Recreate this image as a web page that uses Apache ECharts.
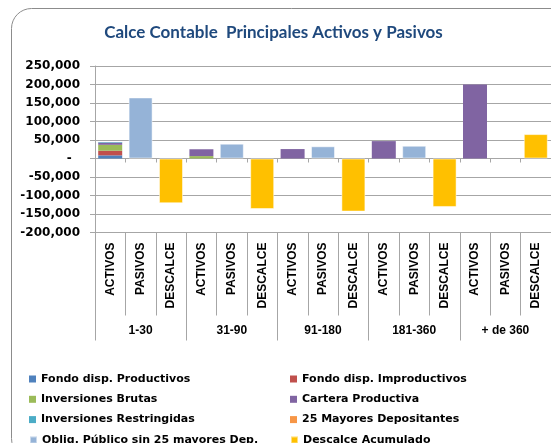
<!DOCTYPE html>
<html>
<head>
<meta charset="utf-8">
<script src="https://cdn.jsdelivr.net/npm/echarts@6/dist/echarts.min.js"></script>
<style>
html,body{margin:0;padding:0;background:#fff;}
#c{width:551px;height:443px;}
</style>
</head>
<body>
<div id="c"></div>
<script>
var categories = ['ACTIVOS','PASIVOS','DESCALCE','ACTIVOS','PASIVOS','DESCALCE','ACTIVOS','PASIVOS','DESCALCE','ACTIVOS','PASIVOS','DESCALCE','ACTIVOS','PASIVOS','DESCALCE'];
var groups = ['1-30','31-90','91-180','181-360','+ de 360'];
var yTicks = [-200000,-150000,-100000,-50000,0,50000,100000,150000,200000,250000];

var fondoProd    = [8500,null,null, null,null,null, null,null,null, null,null,null, null,null,null];
var fondoImprod  = [12500,null,null, null,null,null, null,null,null, null,null,null, null,null,null];
var invBrutas    = [16000,null,null, 6500,null,null, null,null,null, null,null,null, null,null,null];
var cartera      = [6000,null,null, 18500,null,null, 25500,null,null, 47000,null,null, 200000,null,null];
var invRestr     = [1500,null,null, null,null,null, null,null,null, null,null,null, null,null,null];
var mayores25    = [null,null,null, null,null,null, null,null,null, null,null,null, null,null,null];
var oblig        = [null,165000,null, null,40000,null, null,33000,null, null,34500,null, null,null,null];
var descalce     = [null,null,-121000, null,null,-136500, null,null,-143500, null,null,-131000, null,null,66000];

var seriesNames = ['Fondo disp. Productivos','Fondo disp. Improductivos','Inversiones Brutas','Cartera Productiva','Inversiones Restringidas','25 Mayores Depositantes','Oblig. Público sin 25 mayores Dep.','Descalce Acumulado'];
var seriesData = [fondoProd, fondoImprod, invBrutas, cartera, invRestr, mayores25, oblig, descalce];
var colors = ['#4F81BD','#C0504D','#9BBB59','#8064A2','#4BACC6','#F79646','#95B3D7','#FFC000'];

var chart = echarts.init(document.getElementById('c'), null, {renderer:'canvas'});
var gray = '#a6a6a6';
var series = seriesNames.map(function(n,i){
  var bordered = (i === 6 || i === 7);
  return {
    name:n, type:'bar', stack:'s', xAxisIndex:0, yAxisIndex:0,
    data:seriesData[i], barWidth:24,
    itemStyle:bordered ? {color:colors[i], borderColor:'rgba(255,255,255,0.5)', borderWidth:1} : {color:colors[i]},
    emphasis:{disabled:true}
  };
});
var legendFont = {fontFamily:'DejaVu Sans', fontWeight:'bold', fontSize:11, color:'#000', lineHeight:14};
var legends = seriesNames.map(function(n,i){
  var col = i % 2, row = Math.floor(i / 2);
  return {data:[n], orient:'horizontal', left: col===0 ? 29 : 290, top: 372 + row*20.3, padding:0,
    itemWidth:7, itemHeight:7, icon:'rect', selectedMode:false, textStyle:legendFont};
});
chart.setOption({
  animation:false,
  color:colors,
  graphic:[
    {type:'rect', shape:{x:11.5, y:8.5, width:600, height:450, r:20}, style:{fill:'none', stroke:'#8c8c8c', lineWidth:1}, silent:true, z:-1},
    {type:'text', x:273.5, y:33, style:{text:'Calce Contable  Principales Activos y Pasivos', textAlign:'center', textVerticalAlign:'middle', font:'bold 17px Lato', fill:'#1F497D'}}
  ],
  grid:{left:95, top:66, width:462, height:166.5, containLabel:false},
  legend:legends,
  xAxis:[
    {type:'category', data:categories, position:'bottom',
     axisLine:{show:true, onZero:true, lineStyle:{color:gray}},
     axisTick:{show:true, interval:0, length:4, lineStyle:{color:gray}},
     axisLabel:{show:false}, splitLine:{show:false}},
    {type:'category', data:categories, position:'bottom',
     axisLine:{show:false, onZero:false},
     axisTick:{show:true, interval:0, length:83, lineStyle:{color:gray}},
     axisLabel:{show:true, interval:0, rotate:90, margin:10, fontFamily:'Liberation Sans', fontWeight:'bold', fontSize:12, color:'#000'},
     splitLine:{show:false}},
    {type:'category', data:groups, position:'bottom',
     axisLine:{show:false, onZero:false},
     axisTick:{show:true, interval:0, length:108, lineStyle:{color:gray}},
     axisLabel:{show:true, interval:0, margin:92, fontFamily:'Liberation Sans', fontWeight:'bold', fontSize:12, color:'#000'},
     splitLine:{show:false}}
  ],
  yAxis:{type:'value', min:yTicks[0], max:yTicks[yTicks.length-1], interval:50000,
    axisLine:{show:true, lineStyle:{color:gray}},
    axisTick:{show:true, length:5, lineStyle:{color:gray}},
    splitLine:{show:true, lineStyle:{color:gray, width:1}},
    axisLabel:{margin:15, fontFamily:'DejaVu Sans', fontWeight:'bold', fontSize:12, color:'#000',
      formatter:function(v){ return v===0 ? '-  ' : v.toLocaleString('en-US'); }}
  },
  series:series
});
</script>
</body>
</html>
